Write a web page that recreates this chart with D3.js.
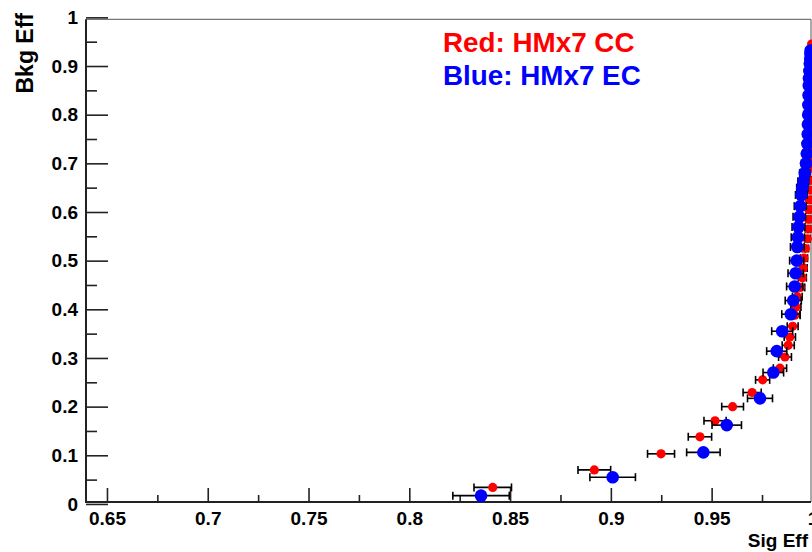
<!DOCTYPE html>
<html>
<head>
<meta charset="utf-8">
<script src="https://cdn.jsdelivr.net/npm/d3@7"></script>
<style>
html,body{margin:0;padding:0;background:#fff;}
svg{display:block;}
text{font-family:"Liberation Sans",Arial,Helvetica,sans-serif;font-weight:bold;}
</style>
</head>
<body>
<svg id="chart" width="812" height="552"></svg>
<script>
// ---- data ----
// Red: HMx7 CC  (signal efficiency, background efficiency, signal-eff error)
const ccSig = [0.8414,0.8918,0.9249,0.9442,0.9517,0.9604,0.9701,0.9753,0.9839,0.9864,0.9880,0.9888,0.9902,0.9913,0.9918,0.9925,0.9940,0.9950,0.9955,0.9958,0.9965,0.9975,0.9978,0.9980,0.9982,0.9984,0.9985,0.9986,0.9987,0.9988,0.9989,0.9990,0.9991,0.9992,0.9992,0.9993,0.9993,0.9994,0.9994,0.9995,0.9995,0.9996];
const ccBkg = [0.034,0.070,0.103,0.138,0.171,0.200,0.229,0.255,0.279,0.302,0.326,0.343,0.365,0.388,0.405,0.426,0.445,0.465,0.485,0.505,0.525,0.545,0.565,0.585,0.605,0.625,0.645,0.665,0.690,0.710,0.730,0.750,0.770,0.790,0.810,0.830,0.850,0.870,0.890,0.910,0.930,0.945];
const ccErr = [0.0093,0.0081,0.0067,0.0058,0.0055,0.0054,0.0045,0.0035,0.0033,0.0032,0.0030,0.0028,0.0027,0.0026,0.0025,0.0024,0.0022,0.0020,0.0019,0.0018,0.0016,0.0014,0.0013,0.0012,0.0011,0.0011,0.0010,0.0010,0.0009,0.0009,0.0008,0.0008,0.0008,0.0007,0.0007,0.0007,0.0006,0.0006,0.0006,0.0005,0.0005,0.0004];
// Blue: HMx7 EC
const ecSig = [0.8356,0.9009,0.9459,0.9575,0.9740,0.9806,0.9823,0.9850,0.9893,0.9905,0.9912,0.9917,0.9922,0.9925,0.9928,0.9931,0.9935,0.9940,0.9945,0.9950,0.9955,0.9962,0.9968,0.9972,0.9975,0.9977,0.9978,0.9979,0.9980,0.9981,0.9982,0.9983,0.9985,0.9987,0.9989,0.9990,0.9991];
const ecBkg = [0.017,0.055,0.106,0.162,0.217,0.270,0.314,0.355,0.390,0.418,0.447,0.474,0.500,0.528,0.548,0.569,0.590,0.612,0.635,0.650,0.663,0.680,0.700,0.720,0.740,0.760,0.780,0.800,0.820,0.840,0.860,0.875,0.890,0.905,0.915,0.925,0.932];
const ecErr = [0.0140,0.0113,0.0083,0.0073,0.0062,0.0051,0.0050,0.0052,0.0045,0.0040,0.0040,0.0038,0.0035,0.0034,0.0033,0.0032,0.0031,0.0030,0.0029,0.0028,0.0027,0.0025,0.0022,0.0020,0.0019,0.0018,0.0017,0.0016,0.0015,0.0014,0.0013,0.0012,0.0011,0.0010,0.0009,0.0008,0.0007];

const xMajorTicks = [0.65,0.7,0.75,0.8,0.85,0.9,0.95,1.0];
const xTickLabels = ["0.65","0.7","0.75","0.8","0.85","0.9","0.95","1"];
const xMinorTicks = [0.675,0.725,0.775,0.825,0.875,0.925,0.975];
const yMajorTicks = [0,0.1,0.2,0.3,0.4,0.5,0.6,0.7,0.8,0.9,1];
const yTickLabels = ["0","0.1","0.2","0.3","0.4","0.5","0.6","0.7","0.8","0.9","1"];
const yMinorTicks = [0.05,0.15,0.25,0.35,0.45,0.55,0.65,0.75,0.85,0.95];

const legendLines = [
  {text:"Red: HMx7 CC", color:"#ff0000"},
  {text:"Blue: HMx7 EC", color:"#0000ff"}
];

// ---- layout ----
const svg = d3.select("#chart");
const pL = 86, pR = 811, pT = 19.3, pB = 502;
const x = d3.scaleLinear().domain([0.6396, 0.9993]).range([pL, pR]);
const y = d3.scaleLinear().domain([0.004, 0.996]).range([pB, pT]);

// frame (top and right)
svg.append("line").attr("x1",pL).attr("x2",pR).attr("y1",pT).attr("y2",pT)
  .attr("stroke","#555").attr("stroke-width",1);
svg.append("line").attr("x1",pR).attr("x2",pR).attr("y1",pT).attr("y2",pB)
  .attr("stroke","#555").attr("stroke-width",1);

// axes
const yAxis = d3.axisLeft(y).tickValues(yMajorTicks)
  .tickFormat((d,i)=>yTickLabels[i]).tickSizeInner(-22).tickSizeOuter(0).tickPadding(8);
const yMinor = d3.axisLeft(y).tickValues(yMinorTicks).tickFormat("").tickSizeInner(-11).tickSizeOuter(0);
const xAxis = d3.axisBottom(x).tickValues(xMajorTicks)
  .tickFormat((d,i)=>xTickLabels[i]).tickSizeInner(-14).tickSizeOuter(0).tickPadding(9.5);
const xMinor = d3.axisBottom(x).tickValues(xMinorTicks).tickFormat("").tickSizeInner(-7).tickSizeOuter(0);

function styleAxis(g){
  g.select(".domain").remove();
  g.selectAll(".tick line").attr("stroke","#222").attr("stroke-width",1.6);
  g.selectAll(".tick text").attr("fill","#000").style("font-size","19px")
    .style("font-family",'"Liberation Sans",Arial,sans-serif').style("font-weight","bold");
}
svg.append("g").attr("transform",`translate(${pL},0)`).call(yAxis).call(styleAxis);
svg.append("g").attr("transform",`translate(${pL},0)`).call(yMinor).call(styleAxis);
svg.append("g").attr("transform",`translate(0,${pB})`).call(xAxis).call(styleAxis);
svg.append("g").attr("transform",`translate(0,${pB})`).call(xMinor).call(styleAxis);

// axis lines
svg.append("line").attr("x1",pL).attr("x2",pL).attr("y1",pT).attr("y2",pB+1)
  .attr("stroke","#222").attr("stroke-width",2);
svg.append("line").attr("x1",pL-1).attr("x2",pR).attr("y1",pB).attr("y2",pB)
  .attr("stroke","#222").attr("stroke-width",2);

// axis titles
svg.append("text").attr("transform","translate(33,13) rotate(-90)")
  .attr("text-anchor","end").style("font-size","23px").attr("fill","#000").text("Bkg Eff");
svg.append("text").attr("x",808).attr("y",547)
  .attr("text-anchor","end").style("font-size","19px").attr("fill","#000").text("Sig Eff");

// series
function drawSeries(sig, bkg, err, color, r){
  const data = sig.map((s,i)=>({s, b:bkg[i], e:err[i]}));
  const g = svg.append("g");
  const eb = g.selectAll("g.eb").data(data).enter().append("g")
    .attr("stroke","#000").attr("stroke-width",1.6);
  eb.append("line").attr("x1",d=>x(d.s-d.e)).attr("x2",d=>x(d.s+d.e))
    .attr("y1",d=>y(d.b)).attr("y2",d=>y(d.b));
  eb.append("line").attr("x1",d=>x(d.s-d.e)).attr("x2",d=>x(d.s-d.e))
    .attr("y1",d=>y(d.b)-4).attr("y2",d=>y(d.b)+4);
  eb.append("line").attr("x1",d=>x(d.s+d.e)).attr("x2",d=>x(d.s+d.e))
    .attr("y1",d=>y(d.b)-4).attr("y2",d=>y(d.b)+4);
  g.selectAll("circle").data(data).enter().append("circle")
    .attr("cx",d=>x(d.s)).attr("cy",d=>y(d.b)).attr("r",r).attr("fill",color);
}
drawSeries(ccSig, ccBkg, ccErr, "#ff0000", 4.6);
drawSeries(ecSig, ecBkg, ecErr, "#0000ff", 6.3);

// legend text
svg.selectAll("text.leg").data(legendLines).enter().append("text").attr("class","leg")
  .attr("x",443).attr("y",(d,i)=>52 + i*33.3)
  .style("font-size","27.8px").attr("fill",d=>d.color).text(d=>d.text);
</script>
</body>
</html>
